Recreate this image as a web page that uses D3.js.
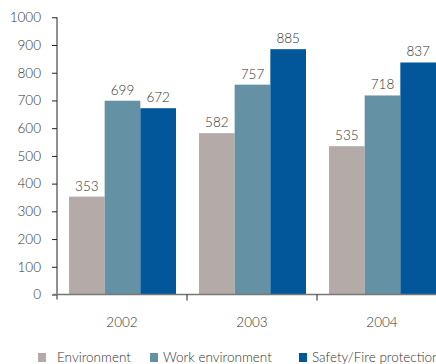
<!DOCTYPE html>
<html>
<head>
<meta charset="utf-8">
<script src="https://cdn.jsdelivr.net/npm/d3@7"></script>
<style>
  html, body { margin: 0; padding: 0; background: #fff; }
  svg { display: block; }
  text { font-family: Lato, "Open Sans", sans-serif; font-weight: 300; fill: #333; }
</style>
</head>
<body>
<svg id="chart" width="436" height="364"></svg>
<script>
const years = ["2002", "2003", "2004"];
const seriesNames = ["Environment", "Work environment", "Safety/Fire protection"];
const environment = [353, 582, 535];
const workEnvironment = [699, 757, 718];
const safetyFire = [672, 885, 837];
const yTicks = [0, 100, 200, 300, 400, 500, 600, 700, 800, 900, 1000];
const colors = ["#b4aba8", "#6591a4", "#02579a"];

const seriesValues = [environment, workEnvironment, safetyFire];
const rows = years.map((yr, i) => ({
  year: yr,
  values: seriesNames.map((s, k) => ({ key: s, value: seriesValues[k][i] }))
}));

const svg = d3.select("#chart");
const plotLeft = 57, plotTop = 17.3, plotH = 277.2;
const catW = 130;
const fontSize = "13.5px";

const x0 = d3.scaleBand().domain(years).range([plotLeft, plotLeft + catW * years.length]).paddingInner(0).paddingOuter(0);
const x1 = d3.scaleBand().domain(seriesNames).range([12, catW - 11]).padding(0);
const y = d3.scaleLinear().domain([0, 1000]).range([plotTop + plotH, plotTop]);

// bars
const groups = svg.append("g").selectAll("g").data(rows).join("g")
  .attr("transform", d => `translate(${x0(d.year)},0)`);

groups.selectAll("rect").data(d => d.values).join("rect")
  .attr("x", d => x1(d.key))
  .attr("y", d => y(d.value))
  .attr("width", x1.bandwidth())
  .attr("height", d => y(0) - y(d.value))
  .attr("fill", (d, i) => colors[i]);

groups.selectAll("text.val").data(d => d.values).join("text")
  .attr("class", "val")
  .attr("x", d => x1(d.key) + x1.bandwidth() / 2)
  .attr("y", d => y(d.value) - 6)
  .attr("text-anchor", "middle")
  .style("font-size", fontSize)
  .text(d => d.value);

// y axis
const yAxis = svg.append("g")
  .attr("transform", `translate(${plotLeft},0)`)
  .call(d3.axisLeft(y).tickValues(yTicks).tickFormat(d3.format("d"))
    .tickSize(5).tickPadding(11).tickSizeOuter(0));
yAxis.select(".domain").remove();
yAxis.selectAll(".tick line").attr("stroke", "#222");
yAxis.selectAll(".tick text").style("font-size", fontSize).style("fill", "#333").attr("font-family", null);
svg.append("line")
  .attr("x1", plotLeft).attr("x2", plotLeft)
  .attr("y1", y(1000)).attr("y2", y(0) + 5)
  .attr("stroke", "#222").attr("stroke-width", 1);

// x axis baseline and category ticks
svg.append("line")
  .attr("x1", plotLeft - 4).attr("x2", 436)
  .attr("y1", y(0)).attr("y2", y(0))
  .attr("stroke", "#777").attr("stroke-width", 1.6);

const xAxis = svg.append("g")
  .attr("transform", `translate(0,${y(0)})`)
  .call(d3.axisBottom(x0).tickSize(0).tickPadding(23));
xAxis.select(".domain").remove();
xAxis.selectAll(".tick text").style("font-size", fontSize).style("fill", "#333").attr("font-family", null);

svg.append("g").selectAll("line").data(years.slice(1).concat(["end"])).join("line")
  .attr("x1", (d, i) => plotLeft + catW * (i + 1))
  .attr("x2", (d, i) => plotLeft + catW * (i + 1))
  .attr("y1", y(0)).attr("y2", y(0) + 6)
  .attr("stroke", "#222");

// legend
const legendX = [38, 150, 299];
const legend = svg.append("g").selectAll("g").data(seriesNames).join("g")
  .attr("transform", (d, i) => `translate(${legendX[i]},353)`);
legend.append("rect").attr("width", 8).attr("height", 9).attr("fill", (d, i) => colors[i]);
legend.append("text")
  .attr("x", (d, i) => i === 0 ? 19 : 13)
  .attr("y", 9)
  .style("font-size", fontSize)
  .text(d => d);
</script>
</body>
</html>
